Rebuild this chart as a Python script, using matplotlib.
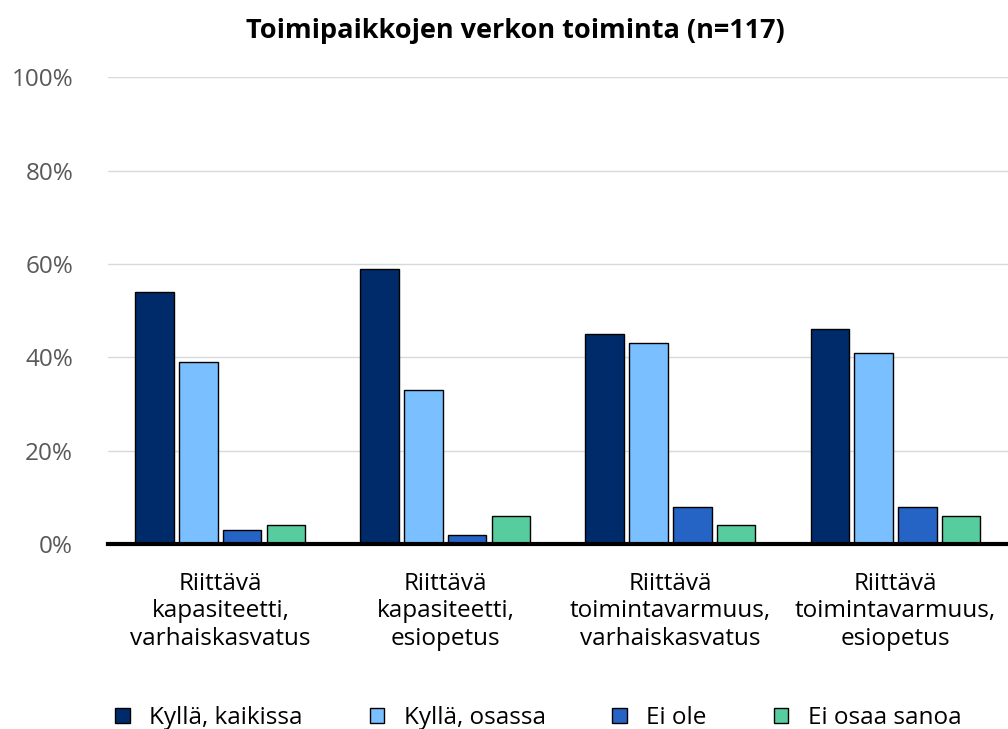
import numpy as np
import matplotlib
matplotlib.use('Agg')
import matplotlib.pyplot as plt
from matplotlib.patches import Patch
from matplotlib.ticker import FuncFormatter

plt.rcParams['font.family'] = ['Open Sans', 'DejaVu Sans']

categories = ['Riittävä\nkapasiteetti,\nvarhaiskasvatus',
              'Riittävä\nkapasiteetti,\nesiopetus',
              'Riittävä\ntoimintavarmuus,\nvarhaiskasvatus',
              'Riittävä\ntoimintavarmuus,\nesiopetus']
series = ['Kyllä, kaikissa', 'Kyllä, osassa', 'Ei ole', 'Ei osaa sanoa']
kaikissa = [54, 59, 45, 46]
osassa = [39, 33, 43, 41]
ei_ole = [3, 2, 8, 8]
ei_osaa = [4, 6, 4, 6]
colors = ['#002B6B', '#7ABFFF', '#2563C4', '#57CC9F']
values = [kaikissa, osassa, ei_ole, ei_osaa]

fig = plt.figure(figsize=(10.08, 7.29), dpi=100)
ax = fig.add_axes([0.107, 0.254, 0.893, 0.64])

x = np.arange(len(categories))
w = 0.17
offsets = [-1.5, -0.5, 0.5, 1.5]
for vals, col, off, name in zip(values, colors, offsets, series):
    ax.bar(x + off * 0.195, vals, w, color=col, edgecolor='black', linewidth=1, label=name, zorder=3)

ax.set_ylim(0, 100)
ax.set_xlim(-0.5, 3.5)
ax.set_yticks(range(0, 101, 20))
ax.yaxis.set_major_formatter(FuncFormatter(lambda v, p: '%d%%' % v))
ax.grid(axis='y', color='#d9d9d9', linewidth=1, zorder=0)
for s in ['top', 'right', 'left']:
    ax.spines[s].set_visible(False)
ax.spines['bottom'].set_linewidth(3)
ax.spines['bottom'].set_zorder(4)
ax.tick_params(axis='y', length=0, labelsize=17.5, labelcolor='#595959', pad=25)
ax.tick_params(axis='x', length=0, labelsize=17.5, pad=20)
ax.set_xticks(x)
ax.set_xticklabels(categories, linespacing=1.2)

fig.text(0.511, 0.958, 'Toimipaikkojen verkon toiminta (n=117)', ha='center', va='center',
         fontsize=19.5, fontweight='bold')

handles = [Patch(facecolor=c, edgecolor='black', label=n) for c, n in zip(colors, series)]
fig.legend(handles=handles, loc='center', bbox_to_anchor=(0.534, 0.015), ncol=4, frameon=False,
           fontsize=17.5, handlelength=0.6, handleheight=0.6, columnspacing=2.75, handletextpad=0.8)

plt.savefig('out.png')
